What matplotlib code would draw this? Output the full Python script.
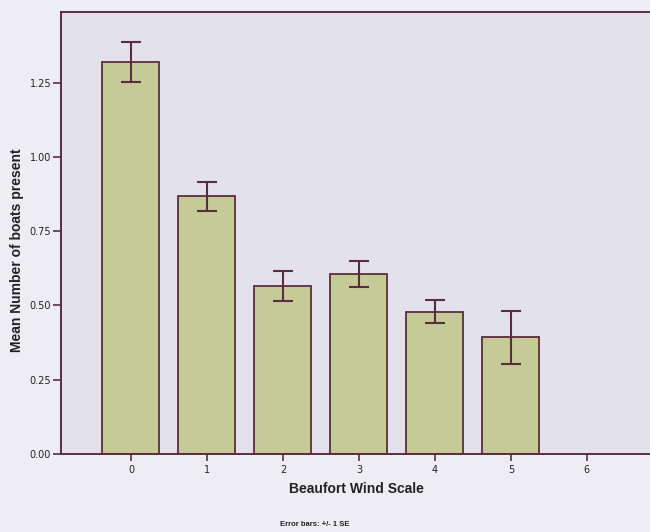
import numpy as np
import matplotlib.pyplot as plt

# Beaufort wind scale categories and mean boats present (+/- 1 SE)
wind = [0, 1, 2, 3, 4, 5, 6]
means = [1.32, 0.867, 0.565, 0.606, 0.479, 0.393, 0.0]
se = [0.068, 0.050, 0.050, 0.043, 0.039, 0.089, 0.0]

edge = '#5b2c3f'
fig = plt.figure(figsize=(6.5, 5.32), dpi=100, facecolor='#eeedf4')
ax = fig.add_axes([0.0938, 0.1466, 0.909, 0.831])
ax.set_facecolor('#e3e2ec')

# no bar for category 6 (no data)
idx = [i for i in range(len(wind)) if means[i] > 0]
ax.bar([wind[i] for i in idx], [means[i] for i in idx], width=0.75,
       color='#c5cb97', edgecolor=edge, linewidth=1.3)
ax.errorbar([wind[i] for i in idx], [means[i] for i in idx], yerr=[se[i] for i in idx],
            fmt='none', ecolor=edge, elinewidth=1.5, capsize=7, capthick=1.5)

ax.set_xlim(-0.921, 6.855)
ax.set_ylim(0, 1.488)
ax.set_xticks(wind)
ax.set_yticks([0, 0.25, 0.5, 0.75, 1.0, 1.25])
ax.set_yticklabels(['0.00', '0.25', '0.50', '0.75', '1.00', '1.25'])
ax.tick_params(axis='both', colors=edge, labelcolor='#222222', labelsize=7, width=1.2)
ax.tick_params(axis='y', length=6, pad=1)
ax.tick_params(axis='x', length=5, pad=3)
for s in ['left', 'bottom', 'top']:
    ax.spines[s].set_color(edge)
    ax.spines[s].set_linewidth(1.4)
ax.spines['right'].set_visible(False)

ax.set_xlabel('Beaufort Wind Scale', fontsize=10, fontweight='bold', color='#222222',
              family='Liberation Sans', labelpad=5)
ax.set_ylabel('Mean Number of boats present', fontsize=10, fontweight='bold', color='#222222',
              family='Liberation Sans')
ax.yaxis.set_label_coords(-0.062, 0.46)
fig.text(0.485, 0.012, 'Error bars: +/- 1 SE', fontsize=5.5, fontweight='bold',
         color='#222222', ha='center', family='Liberation Sans')

fig.savefig('out.png', dpi=100, facecolor=fig.get_facecolor())
